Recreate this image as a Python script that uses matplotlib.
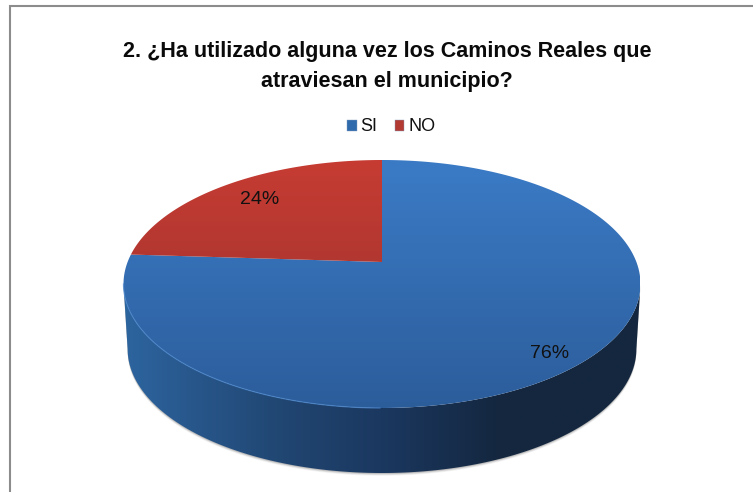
import numpy as np
import matplotlib
matplotlib.use("Agg")
import matplotlib.pyplot as plt
from matplotlib.colors import LinearSegmentedColormap
from matplotlib.patches import Patch, Polygon, Rectangle

plt.rcParams['font.family'] = ['Liberation Sans', 'DejaVu Sans']

title = "2. ¿Ha utilizado alguna vez los Caminos Reales que\natraviesan el municipio?"
labels = ["SI", "NO"]
values = [76, 24]
top_colors = [("#3b7bc6", "#2c5d9b"), ("#c63c33", "#95302c")]
legend_colors = ["#2f6aad", "#b23a33"]
wall_colors = [(0, "#2d659f"), (0.13, "#28578c"), (0.32, "#204570"), (0.5, "#1b3860"),
               (0.73, "#14273f"), (1, "#14283f")]

# pie geometry in image pixels
cx, cy = 382, 284
a, b = 258.5, 124
apex_up = 22
depth = 65
p = apex_up / b
d = a * np.sqrt(1 - p ** 2)


def project(angle):
    # tilted disc: circle point to pixel, near side bigger than far side
    u, v = np.cos(angle), np.sin(angle)
    w = 1 + p * v
    return cx + d * u / w, cy - (b * v + apex_up) / w


def gradient(ax, extent, colors, clip, horizontal=False):
    cmap = LinearSegmentedColormap.from_list("g", colors)
    g = np.linspace(0, 1, 256)
    g = g.reshape(1, -1) if horizontal else g.reshape(-1, 1)
    im = ax.imshow(g, cmap=cmap, extent=extent, aspect="auto", zorder=clip.get_zorder())
    im.set_clip_path(clip)


fig = plt.figure(figsize=(7.53, 4.92), dpi=100)
ax = fig.add_axes([0, 0, 1, 1])
ax.set_xlim(0, 753)
ax.set_ylim(492, 0)
ax.axis("off")

# chart frame
ax.add_patch(Rectangle((10, 6), 760, 500, fc="white", ec="#8c8c8c", lw=1.5, zorder=0))

ax.text(387, 66.5, title, ha="center", va="center", fontsize=15.5, fontweight="bold",
        color="#0a0a0a", linespacing=1.55)

handles = [Patch(fc=c, ec="#8aa0c0", lw=0.3) for c in legend_colors]
fig.legend(handles, labels, loc="center", bbox_to_anchor=(391 / 753, 1 - 127 / 492), ncol=2,
           frameon=False, fontsize=13, handlelength=0.55, handleheight=0.55,
           handletextpad=0.2, columnspacing=0.95, labelcolor="#111111")

# side wall with soft shadow
t = np.linspace(np.pi, 2 * np.pi, 200)
ex = cx + a * np.cos(t)
ey = cy - b * np.sin(t)
taper = 0.984
wall_x = np.r_[ex, (cx + (ex - cx) * taper)[::-1]]
wall_y = np.r_[ey, (ey + depth)[::-1]]
for i, alpha in zip([4, 3, 2, 1], [0.06, 0.1, 0.14, 0.2]):
    ax.add_patch(Polygon(np.c_[wall_x, wall_y + i * 0.7], fc="#555555", ec="none", alpha=alpha, zorder=1))
wall = Polygon(np.c_[wall_x, wall_y], fc="none", ec="none", zorder=2)
ax.add_patch(wall)
gradient(ax, (cx - a, cx + a, 492, 0), wall_colors, wall, True)

# top face slices, first slice clockwise from 12 o'clock
fracs = np.array(values) / sum(values)
start = np.pi / 2
label_pos = [(550, 354), (260, 200)]
for val, frac, cols, pos in zip(values, fracs, top_colors, label_pos):
    angs = np.linspace(start, start - 2 * np.pi * frac, 300)
    x, y = project(angs)
    x0, y0 = cx, cy - apex_up
    poly = Polygon(np.c_[np.r_[x0, x], np.r_[y0, y]], fc="none", ec="none", zorder=3)
    ax.add_patch(poly)
    gradient(ax, (cx - a, cx + a, cy + b, cy - b), list(cols), poly)
    ax.text(pos[0], pos[1], f"{val}%", ha="center", va="center", fontsize=14, color="#111111", zorder=5)
    start -= 2 * np.pi * frac

# light rim on the front edge
ax.plot(ex[:100], ey[:100], color="#4a86cc", lw=0.9, alpha=0.7, zorder=4)

fig.savefig("out.png", dpi=100)
